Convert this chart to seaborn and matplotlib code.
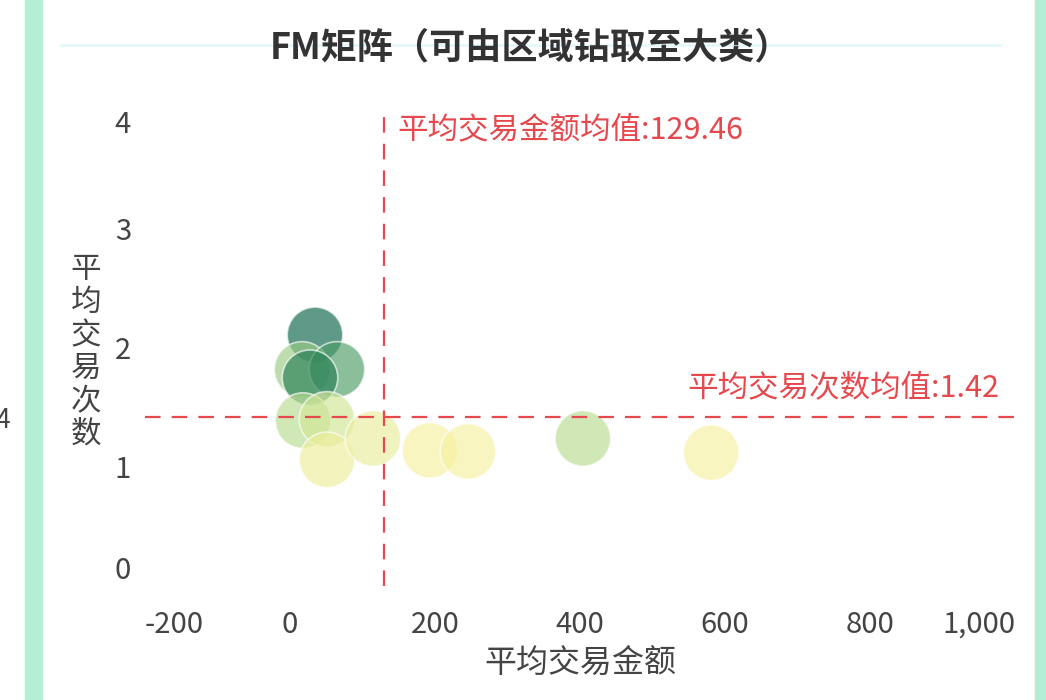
import numpy as np
import seaborn as sns
import pandas as pd
import matplotlib.pyplot as plt
from matplotlib.patches import Rectangle

# values
avg_amount = [34.5, 16.6, 64.8, 27.6, 17.9, 51, 51, 114.5, 193, 245.5, 404, 581]
avg_count = [2.11, 1.82, 1.82, 1.75, 1.39, 1.40, 1.06, 1.24, 1.14, 1.13, 1.24, 1.12]
shade = [1.0, 0.45, 0.72, 0.88, 0.35, 0.22, 0.05, 0.08, 0.0, 0.0, 0.35, 0.0]
amount_mean = 129.46
count_mean = 1.42
x_ticks = [-200, 0, 200, 400, 600, 800, 1000]
x_labels = ['-200', '0', '200', '400', '600', '800', '1,000']
y_ticks = [0, 1, 2, 3, 4]

df = pd.DataFrame({'平均交易金额': avg_amount, '平均交易次数': avg_count, 'shade': shade})

sns.set_style('white')
plt.rcParams['font.family'] = ['Noto Sans CJK SC', 'DejaVu Sans']

fig = plt.figure(figsize=(10.46, 7), dpi=100)
W, H = 1046, 700
ax = fig.add_axes([145 / W, (H - 586) / H, 870 / W, 476 / H])

cmap = sns.blend_palette(['#f6f19e', '#bddf92', '#5aa86e', '#0a6448'], as_cmap=True)
sns.scatterplot(data=df, x='平均交易金额', y='平均交易次数', hue='shade', palette=cmap,
                hue_norm=(0, 1), s=1600, alpha=0.65, edgecolor='white', linewidth=1.2,
                legend=False, ax=ax)

red = '#e5484d'
ax.axvline(amount_mean, color=red, lw=1.6, dashes=(7, 5))
ax.axhline(count_mean, color=red, lw=1.6, dashes=(7, 5))
ax.text(amount_mean + 18, 3.83, '平均交易金额均值:129.46', color=red, fontsize=22,
        ha='left', va='center')
ax.text(979, count_mean + 0.25, '平均交易次数均值:1.42', color=red, fontsize=22,
        ha='right', va='center')

ax.set_xlim(-200, 1000)
ax.set_ylim(0, 4)
ax.set_xticks(x_ticks)
ax.set_xticklabels(x_labels)
ax.set_yticks(y_ticks)
sns.despine(ax=ax, left=True, bottom=True)
ax.tick_params(axis='x', length=0, pad=17, labelsize=21, labelcolor='#444444')
ax.tick_params(axis='y', length=0, pad=10, labelsize=21, labelcolor='#444444')
xl = ax.get_xticklabels()
xl[0].set_horizontalalignment('left')
xl[-1].set_horizontalalignment('right')
yl = ax.get_yticklabels()
yl[0].set_verticalalignment('bottom')
yl[-1].set_verticalalignment('top')

ax.set_xlabel('平均交易金额', fontsize=23, color='#444444', labelpad=5)
ax.set_ylabel('平\n均\n交\n易\n次\n数', fontsize=22, color='#444444', rotation=0,
              ha='center', va='center', linespacing=1.08)
ax.yaxis.set_label_coords(-59 / 870, (586 - 352) / 476)

# frame decorations
fig.patches.append(Rectangle((25 / W, 0), 17 / W, 1, transform=fig.transFigure,
                             color='#b4eed4', zorder=0))
fig.patches.append(Rectangle((1035 / W, 0), 11 / W, 1, transform=fig.transFigure,
                             color='#b4eed4', zorder=0))
fig.add_artist(plt.Line2D([60 / W, 1000 / W], [1 - 45 / H, 1 - 45 / H],
                          transform=fig.transFigure, color='#e3f8fb', lw=2, zorder=0))
fig.text(530 / W, 1 - 48 / H, 'FM矩阵（可由区域钻取至大类）', fontsize=26, fontweight='bold',
         color='#333333', ha='center', va='center')
fig.text(-4 / W, 1 - 420 / H, '4', fontsize=19, color='#444444', ha='left', va='center')

fig.savefig('out.png', dpi=100)
